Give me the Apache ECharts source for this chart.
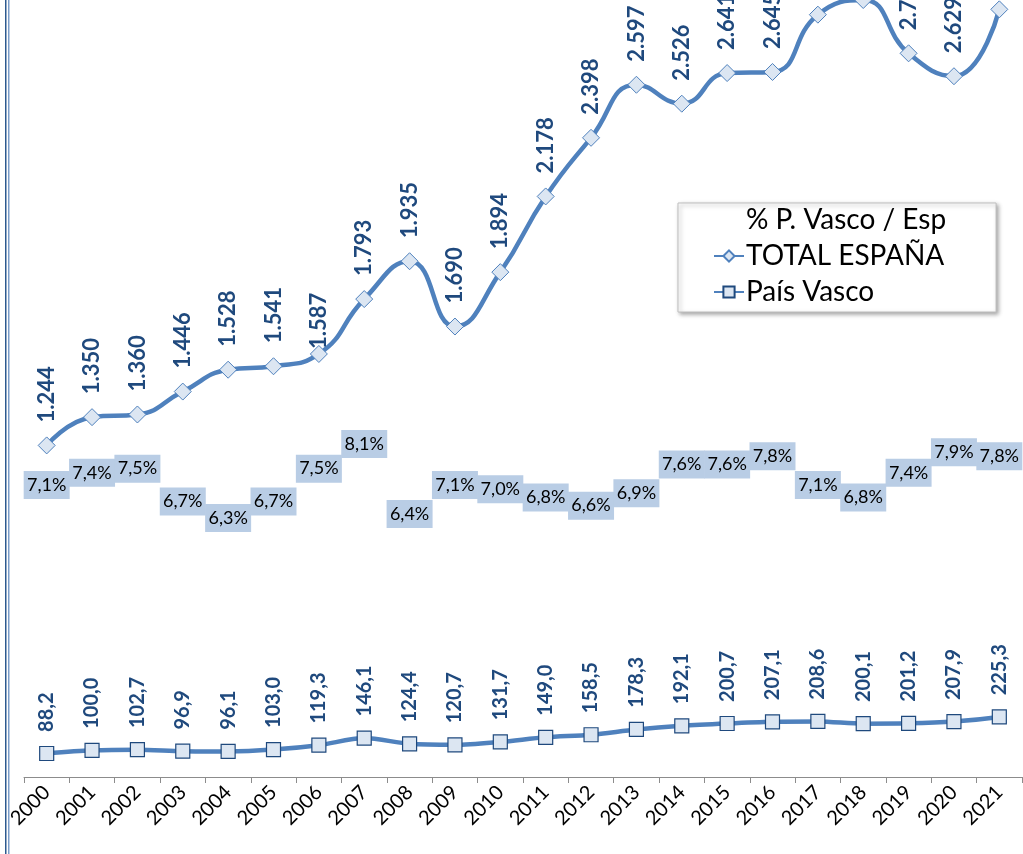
<!DOCTYPE html>
<html>
<head>
<meta charset="utf-8">
<script src="https://cdn.jsdelivr.net/npm/echarts@6/dist/echarts.min.js"></script>
<style>
  html, body { margin: 0; padding: 0; background: #ffffff; }
  #chart { width: 1023px; height: 854px; }
</style>
</head>
<body>
<div id="chart"></div>
<script>
// Years on the category axis
const years = ['2000','2001','2002','2003','2004','2005','2006','2007','2008','2009','2010',
  '2011','2012','2013','2014','2015','2016','2017','2018','2019','2020','2021'];

// Total for Spain
const totalEspana = [1244, 1350, 1360, 1446, 1528, 1541, 1587, 1793, 1935, 1690, 1894,
  2178, 2398, 2597, 2526, 2641, 2645, 2860, 2915, 2715, 2629, 2880];

// Basque Country
const paisVasco = [88.2, 100.0, 102.7, 96.9, 96.1, 103.0, 119.3, 146.1, 124.4, 120.7, 131.7,
  149.0, 158.5, 178.3, 192.1, 200.7, 207.1, 208.6, 200.1, 201.2, 207.9, 225.3];

// Share of the Basque Country over Spain, in percent
const sharePct = [7.1, 7.4, 7.5, 6.7, 6.3, 6.7, 7.5, 8.1, 6.4, 7.1, 7.0,
  6.8, 6.6, 6.9, 7.6, 7.6, 7.8, 7.1, 6.8, 7.4, 7.9, 7.8];

const FONT = 'Lato';
const LINE_BLUE = '#4F81BD';
const LABEL_BLUE = '#1F497D';

function fmtThousands(v) {
  return String(Math.round(v)).replace(/\B(?=(\d{3})+(?!\d))/g, '.');
}
function fmtDecimal(v) {
  return v.toFixed(1).replace('.', ',');
}

// Data items for the Spain series; the 2006 label sits a little to the left
const totalData = totalEspana.map((v, i) => {
  const item = { value: v };
  if (years[i] === '2006') item.label = { offset: [-18, 0] };
  return item;
});

const chart = echarts.init(document.getElementById('chart'), null, { renderer: 'canvas' });

chart.setOption({
  animation: false,
  backgroundColor: '#ffffff',
  textStyle: { fontFamily: FONT },
  grid: { left: 24, right: 1, top: 0, bottom: 77, containLabel: false },
  legend: {
    left: 678,
    top: 203,
    orient: 'vertical',
    itemWidth: 30,
    itemHeight: 14,
    itemGap: 8,
    padding: [3, 50, 6, 35],
    backgroundColor: '#ffffff',
    borderColor: '#BFBFBF',
    borderWidth: 1,
    shadowColor: 'rgba(0,0,0,0.35)',
    shadowBlur: 4,
    shadowOffsetX: 2,
    shadowOffsetY: 2,
    textStyle: { fontFamily: FONT, fontSize: 28, color: '#000000', padding: [0, 0, 0, -3] },
    data: [
      { name: '% P. Vasco / Esp', itemStyle: { opacity: 0 }, lineStyle: { opacity: 0 } },
      { name: 'TOTAL ESPAÑA' },
      { name: 'País Vasco' }
    ]
  },
  xAxis: {
    type: 'category',
    data: years,
    boundaryGap: true,
    axisLine: { show: true, lineStyle: { color: '#8C8C8C', width: 1 } },
    axisTick: { show: true, length: 6, lineStyle: { color: '#8C8C8C' } },
    axisLabel: {
      rotate: 45,
      interval: 0,
      margin: 12,
      fontFamily: FONT,
      fontSize: 20,
      color: '#000000'
    },
    splitLine: { show: false }
  },
  yAxis: [
    { type: 'value', min: 0, max: 2915, show: false, splitLine: { show: false } },
    { type: 'value', min: 0, max: 18.9, show: false, splitLine: { show: false } }
  ],
  series: [
    {
      name: '% P. Vasco / Esp',
      type: 'line',
      yAxisIndex: 1,
      data: sharePct,
      symbol: 'rect',
      symbolSize: 1,
      itemStyle: { color: 'rgba(0,0,0,0)', borderWidth: 0 },
      lineStyle: { width: 0, opacity: 0 },
      z: 5,
      label: {
        show: true,
        position: 'inside',
        formatter: p => fmtDecimal(p.value) + '%',
        fontFamily: FONT,
        fontSize: 18,
        color: '#000000',
        backgroundColor: '#B9CDE5',
        width: 40,
        align: 'center',
        verticalAlign: 'middle',
        padding: [5, 3, 5, 3]
      }
    },
    {
      name: 'TOTAL ESPAÑA',
      type: 'line',
      yAxisIndex: 0,
      data: totalData,
      smooth: 0.5,
      symbol: 'diamond',
      symbolSize: 17,
      lineStyle: { color: LINE_BLUE, width: 4.5 },
      itemStyle: { color: '#DCE6F2', borderColor: LINE_BLUE, borderWidth: 1 },
      z: 3,
      label: {
        show: true,
        position: 'top',
        distance: 14,
        rotate: 90,
        align: 'left',
        verticalAlign: 'middle',
        formatter: p => fmtThousands(p.value),
        fontFamily: FONT,
        fontWeight: 'bold',
        fontSize: 22,
        color: LABEL_BLUE
      }
    },
    {
      name: 'País Vasco',
      type: 'line',
      yAxisIndex: 0,
      data: paisVasco,
      smooth: 0.3,
      symbol: 'rect',
      symbolSize: 14,
      lineStyle: { color: LINE_BLUE, width: 4.5 },
      itemStyle: { color: '#DCE6F2', borderColor: LABEL_BLUE, borderWidth: 1.2 },
      z: 3,
      label: {
        show: true,
        position: 'top',
        distance: 14,
        rotate: 90,
        align: 'left',
        verticalAlign: 'middle',
        formatter: p => fmtDecimal(p.value),
        fontFamily: FONT,
        fontWeight: 'bold',
        fontSize: 20,
        color: LABEL_BLUE
      }
    }
  ],
  graphic: [
    // double frame line along the left edge
    { type: 'rect', left: 5, top: 0, shape: { width: 1.5, height: 854 }, style: { fill: '#2E5A8F' }, silent: true },
    { type: 'rect', left: 8, top: 0, shape: { width: 1.5, height: 854 }, style: { fill: '#7A9CC8' }, silent: true }
  ]
});
</script>
</body>
</html>
